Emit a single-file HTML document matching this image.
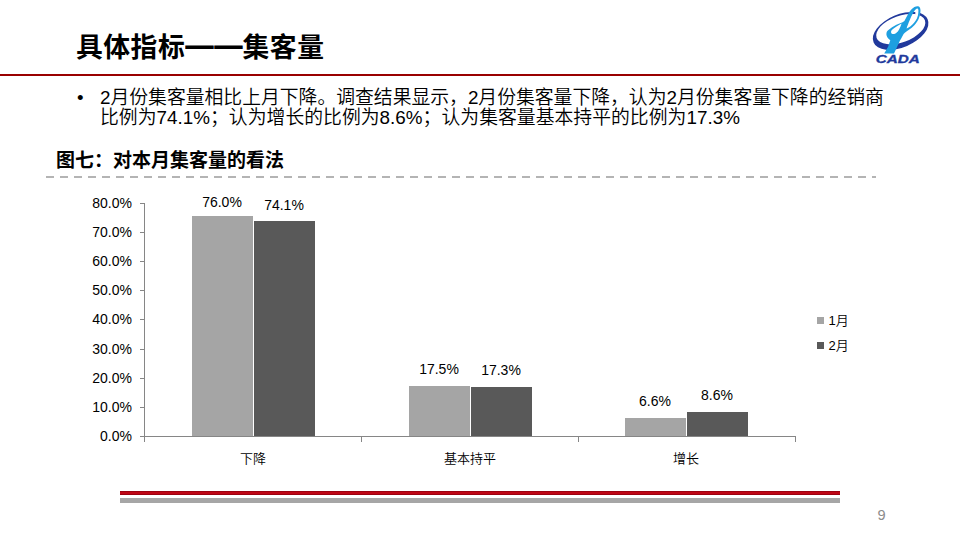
<!DOCTYPE html>
<html lang="zh-CN">
<head>
<meta charset="utf-8">
<style>
html,body{margin:0;padding:0;background:#fff;}
body{width:960px;height:540px;position:relative;overflow:hidden;font-family:"Liberation Sans","Noto Sans CJK SC",sans-serif;color:#000;}
.abs{position:absolute;white-space:nowrap;}
#title{left:76px;top:28px;font-size:26.8px;letter-spacing:0.5px;font-weight:bold;line-height:40px;}
#hr{left:0;top:74px;width:960px;height:2px;background:#990000;}
#bullet{left:77px;top:88px;font-size:18.67px;line-height:20px;}
.tx{left:100px;font-size:18.82px;font-weight:350;line-height:20px;color:#000;}
#l1{top:88px;}
#l2{top:107.5px;letter-spacing:0.03px;}
#ctitle{left:56px;top:148.3px;font-size:19px;font-weight:bold;line-height:26px;}
#dash{left:46px;top:176px;width:830px;height:2px;background:repeating-linear-gradient(to right,#b4b4b4 0,#b4b4b4 8px,transparent 8px,transparent 14px);}
#bar1{left:120px;top:491px;width:720px;height:4px;background:linear-gradient(#9c000f 0,#9c000f 1px,#bf0514 1px,#bf0514 3px,#9c000f 3px);}
#bar2{left:120px;top:498px;width:720px;height:5px;background:#a6a6a6;}
#pnum{left:877.5px;top:506.3px;font-size:14.6px;line-height:18px;color:#8c8c8c;}
svg text{font-family:"Liberation Sans","Noto Sans CJK SC",sans-serif;}
</style>
</head>
<body>
<div class="abs" id="title">具体指标<span style="position:relative;top:-3.5px;display:inline-block;margin:0 1.4px;transform:scale(1.061,1.3)">——</span>集客量</div>
<div class="abs" id="hr"></div>
<div class="abs" id="bullet">•</div>
<div class="abs tx" id="l1">2月份集客量相比上月下降。调查结果显示，2月份集客量下降，认为2月份集客量下降的经销商</div>
<div class="abs tx" id="l2">比例为74.1%；认为增长的比例为8.6%；认为集客量基本持平的比例为17.3%</div>
<div class="abs" id="ctitle">图七：对本月集客量的看法</div>
<div class="abs" id="dash"></div>

<svg class="abs" style="left:0;top:0" width="960" height="540" viewBox="0 0 960 540">
  <!-- axes -->
  <g stroke="#868686" stroke-width="1" fill="none" shape-rendering="crispEdges">
    <line x1="144.5" y1="203" x2="144.5" y2="442"/>
    <line x1="140" y1="203.5" x2="144.5" y2="203.5"/>
    <line x1="140" y1="232.5" x2="144.5" y2="232.5"/>
    <line x1="140" y1="261.5" x2="144.5" y2="261.5"/>
    <line x1="140" y1="290.5" x2="144.5" y2="290.5"/>
    <line x1="140" y1="319.5" x2="144.5" y2="319.5"/>
    <line x1="140" y1="349.5" x2="144.5" y2="349.5"/>
    <line x1="140" y1="378.5" x2="144.5" y2="378.5"/>
    <line x1="140" y1="407.5" x2="144.5" y2="407.5"/>
    <line x1="140" y1="436.5" x2="795.5" y2="436.5"/>
    <line x1="361.5" y1="436.5" x2="361.5" y2="442"/>
    <line x1="578.5" y1="436.5" x2="578.5" y2="442"/>
    <line x1="795.5" y1="436.5" x2="795.5" y2="442"/>
  </g>
  <!-- bars -->
  <g shape-rendering="crispEdges">
    <rect x="192" y="216" width="61" height="220" fill="#a5a5a5"/>
    <rect x="254" y="221" width="61" height="215" fill="#595959"/>
    <rect x="409" y="386" width="61" height="50" fill="#a5a5a5"/>
    <rect x="471" y="387" width="61" height="49" fill="#595959"/>
    <rect x="625" y="418" width="61" height="18" fill="#a5a5a5"/>
    <rect x="687" y="412" width="61" height="24" fill="#595959"/>
  </g>
  <!-- y labels -->
  <g font-size="14" fill="#000" text-anchor="end">
    <text x="132" y="208">80.0%</text>
    <text x="132" y="237">70.0%</text>
    <text x="132" y="266">60.0%</text>
    <text x="132" y="295">50.0%</text>
    <text x="132" y="324">40.0%</text>
    <text x="132" y="354">30.0%</text>
    <text x="132" y="383">20.0%</text>
    <text x="132" y="412">10.0%</text>
    <text x="132" y="441">0.0%</text>
  </g>
  <!-- data labels -->
  <g font-size="14" fill="#000" text-anchor="middle">
    <text x="222" y="207">76.0%</text>
    <text x="284" y="210">74.1%</text>
    <text x="439" y="374">17.5%</text>
    <text x="501" y="375">17.3%</text>
    <text x="655" y="406">6.6%</text>
    <text x="717" y="400">8.6%</text>
  </g>
  <!-- category labels -->
  <g font-size="13" fill="#000" text-anchor="middle" font-weight="350">
    <text x="253" y="463">下降</text>
    <text x="470" y="463">基本持平</text>
    <text x="686" y="463">增长</text>
  </g>
  <!-- legend -->
  <rect x="817" y="317" width="7" height="7" fill="#a5a5a5"/>
  <rect x="817" y="342" width="7" height="7" fill="#595959"/>
  <g font-size="13" fill="#000" font-weight="350">
    <text x="828.5" y="325">1月</text>
    <text x="828.5" y="350">2月</text>
  </g>
</svg>

<!-- logo -->
<svg class="abs" style="left:865px;top:3px" width="70" height="67" viewBox="865 3 70 67">
  <path fill="#21399c" fill-rule="evenodd" d="M 873.63 42.42 a 29.36 16.09 -23.13 1 0 53.99 -23.07 a 29.36 16.09 -23.13 1 0 -53.99 23.07 Z M 876.58 37.90 a 25.72 13.16 -20.03 1 0 48.33 -17.62 a 25.72 13.16 -20.03 1 0 -48.33 17.62 Z"/>
  <path id="ringmask" fill="#fff" d="M 915.3 9 L 919 9 L 919 18 L 915.3 18 Z"/>
  <path fill="#1e9fe0" fill-rule="evenodd" d="M 884.2 53.5 L 888.1 46.7 L 890.3 40.2 C 888.6 39.3 887.2 37.6 886.6 35.6 C 886.1 33.6 886.5 31.6 887.8 30.4 C 890.5 28.2 893.5 26.3 896.4 24.8 C 898.4 23.8 900.5 23 902.6 22.3 L 904.4 20.9 L 908 14.2 C 909 12.5 910 11 911.1 9.8 C 912.2 8.5 913.2 7.6 914.4 7 C 915.6 6.4 916.8 6.1 918 6.2 C 919.3 6.4 920 7.4 920.3 8.8 C 920.6 10.2 920.5 11.6 920.3 13 C 920 15 919.5 17 918.6 19 C 917.6 21.2 916.3 23 914.6 25 C 912.8 27 910.8 28.6 908.6 30 C 906.6 31.2 904.8 32.5 903.6 34 L 901.2 38.4 L 900 40.5 L 894 53.5 Z M 917.4 8.5 C 918.2 8.7 918.4 9.6 918.4 10.6 C 918.4 12.2 918.3 13.8 917.9 15.4 C 917.4 17.4 916.6 19.2 915.4 21 C 913.8 23.4 911.4 25.8 908.6 27.6 L 906.6 28.6 C 906.8 27.2 907.4 25.8 908 24.4 C 908.6 22.6 909.2 21.2 909.8 19.9 C 910.6 18 911.4 16.2 912.3 14.6 C 913.3 12.6 914.4 10.7 915.6 9.5 C 916.2 8.9 916.8 8.5 917.4 8.5 Z M 901.6 23.6 C 901 25.6 900 28 898.8 30 C 897.6 32 896 33.6 894.2 34 C 892.6 34.3 891.3 33.6 891.1 32.4 C 890.9 31.2 891.6 30.3 892.4 29.6 C 894.8 27.6 898 25.4 901.6 23.6 Z"/>
  <text x="897.8" y="62.9" font-size="10.6" font-weight="bold" font-style="italic" fill="#21399c" stroke="#21399c" stroke-width="0.3" text-anchor="middle" textLength="44" lengthAdjust="spacingAndGlyphs" font-family="Liberation Sans,sans-serif">CADA</text>
</svg>

<div class="abs" id="bar1"></div>
<div class="abs" id="bar2"></div>
<div class="abs" id="pnum">9</div>
</body>
</html>
